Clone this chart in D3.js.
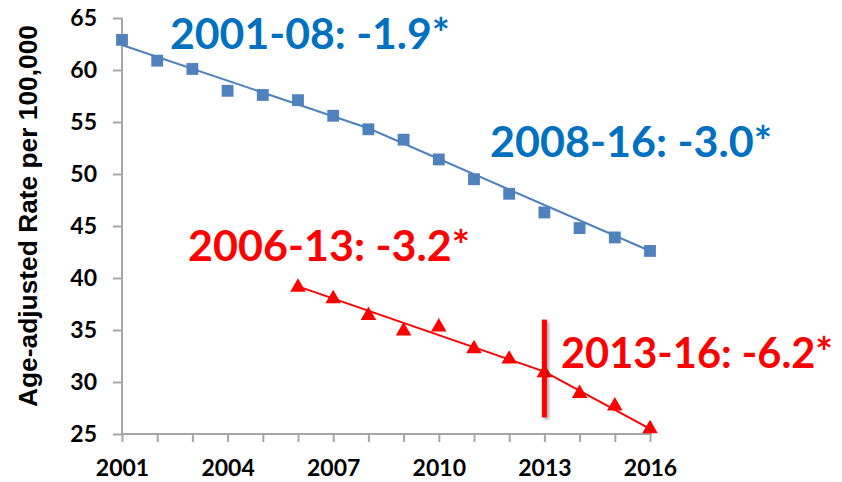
<!DOCTYPE html>
<html><head><meta charset="utf-8">
<script src="https://cdn.jsdelivr.net/npm/d3@7"></script>
<style>body{margin:0;background:#fff;}svg{display:block;}</style>
</head><body>
<script>
// ---- data ----
const years = [2001,2002,2003,2004,2005,2006,2007,2008,2009,2010,2011,2012,2013,2014,2015,2016];
const blueRates = [62.9,60.9,60.1,58.0,57.6,57.1,55.6,54.3,53.3,51.4,49.5,48.1,46.3,44.8,43.9,42.6];
const blueFitYears = [2001,2008,2016];
const blueFit = [62.4,54.4,42.6];
const redYears = [2006,2007,2008,2009,2010,2011,2012,2013,2014,2015,2016];
const redRates = [39.1,38.0,36.4,34.9,35.3,33.2,32.2,30.9,28.9,27.7,25.5];
const redFitYears = [2006,2013,2016];
const redFit = [39.2,31.0,25.5];
const joinYear = 2013;
const joinSpan = [36.0,26.6];
const yTicks = [25,30,35,40,45,50,55,60,65];
const xTickLabels = [2001,2004,2007,2010,2013,2016];
const annotations = ["2001-08: -1.9*","2008-16: -3.0*","2006-13: -3.2*","2013-16: -6.2*"];
const yTitle = "Age-adjusted Rate per 100,000";

const W=842,H=482;
const svg=d3.select("body").append("svg").attr("width",W).attr("height",H);
const defs=svg.append("defs");
const f=defs.append("filter").attr("id","sh").attr("filterUnits","userSpaceOnUse")
  .attr("x",0).attr("y",0).attr("width",W).attr("height",H);
f.append("feDropShadow").attr("dx",2).attr("dy",2).attr("stdDeviation",1.5).attr("flood-color","#000").attr("flood-opacity",0.35);

const x=d3.scaleLinear().domain([2001,2016]).range([122,650]);
const y=d3.scaleLinear().domain([25,65]).range([434,18]);
const axisColor="#A6A6A6";
const tickFont="Lato, 'Open Sans', sans-serif";

// y axis
const ya=svg.append("g").attr("transform","translate(122,0)")
  .call(d3.axisLeft(y).tickValues(yTicks).tickSize(9).tickPadding(16).tickFormat(d3.format("d")));
// x axis
const xa=svg.append("g").attr("transform","translate(0,434)")
  .call(d3.axisBottom(x).tickValues(years).tickSize(8).tickFormat(d=>xTickLabels.includes(d)?d:""));
[ya,xa].forEach(g=>{
  g.selectAll("path,line").attr("stroke",axisColor).attr("stroke-width",2);
  g.select(".domain").attr("d", g===ya? "M0,18V434" : "M122,0H652");
  g.selectAll("text").attr("fill","#000").attr("font-family",tickFont).attr("font-weight","bold").attr("font-size",23);
});
xa.selectAll("text").attr("dy","1.35em");

// y title
svg.append("text").attr("transform","translate(37,216) rotate(-90)")
  .attr("text-anchor","middle").attr("font-family","'Liberation Sans', Arial, sans-serif")
  .attr("font-weight","bold").attr("font-size",26).attr("textLength",382).attr("lengthAdjust","spacingAndGlyphs")
  .attr("fill","#000").text(yTitle);

const line=d3.line().x(d=>x(d[0])).y(d=>y(d[1]));
const blue="#4F81BD", red="#FF0000";

// blue fit & markers
svg.append("path").datum(blueFitYears.map((v,i)=>[v,blueFit[i]]))
  .attr("d",line).attr("fill","none").attr("stroke",blue).attr("stroke-width",2);
svg.append("g").selectAll("path").data(years.map((v,i)=>[v,blueRates[i]])).join("path")
  .attr("d",d3.symbol(d3.symbolSquare,140)).attr("fill",blue)
  .attr("transform",d=>`translate(${x(d[0])},${y(d[1])})`);

// red fit & markers
svg.append("path").datum(redFitYears.map((v,i)=>[v,redFit[i]]))
  .attr("d",line).attr("fill","none").attr("stroke",red).attr("stroke-width",2);
svg.append("g").selectAll("path").data(redYears.map((v,i)=>[v,redRates[i]])).join("path")
  .attr("d",d3.symbol(d3.symbolTriangle,105)).attr("fill",red)
  .attr("transform",d=>`translate(${x(d[0])},${y(d[1])})`);

// joinpoint marker
svg.append("rect").attr("x",x(joinYear)-2.5).attr("width",5)
  .attr("y",y(joinSpan[0])).attr("height",y(joinSpan[1])-y(joinSpan[0]))
  .attr("fill",red).attr("filter","url(#sh)");

// annotations
const annPos=[[170,49,280,"#0070C0"],[490,157,282,"#0070C0"],[188,261,282,red],[561,368,272,red]];
svg.append("g").selectAll("text").data(annotations).join("text")
  .attr("x",(d,i)=>annPos[i][0]).attr("y",(d,i)=>annPos[i][1])
  .attr("textLength",(d,i)=>annPos[i][2]).attr("lengthAdjust","spacingAndGlyphs")
  .attr("fill",(d,i)=>annPos[i][3]).attr("font-family",tickFont)
  .attr("font-weight","bold").attr("font-size",42).text(d=>d);
</script>
</body></html>
